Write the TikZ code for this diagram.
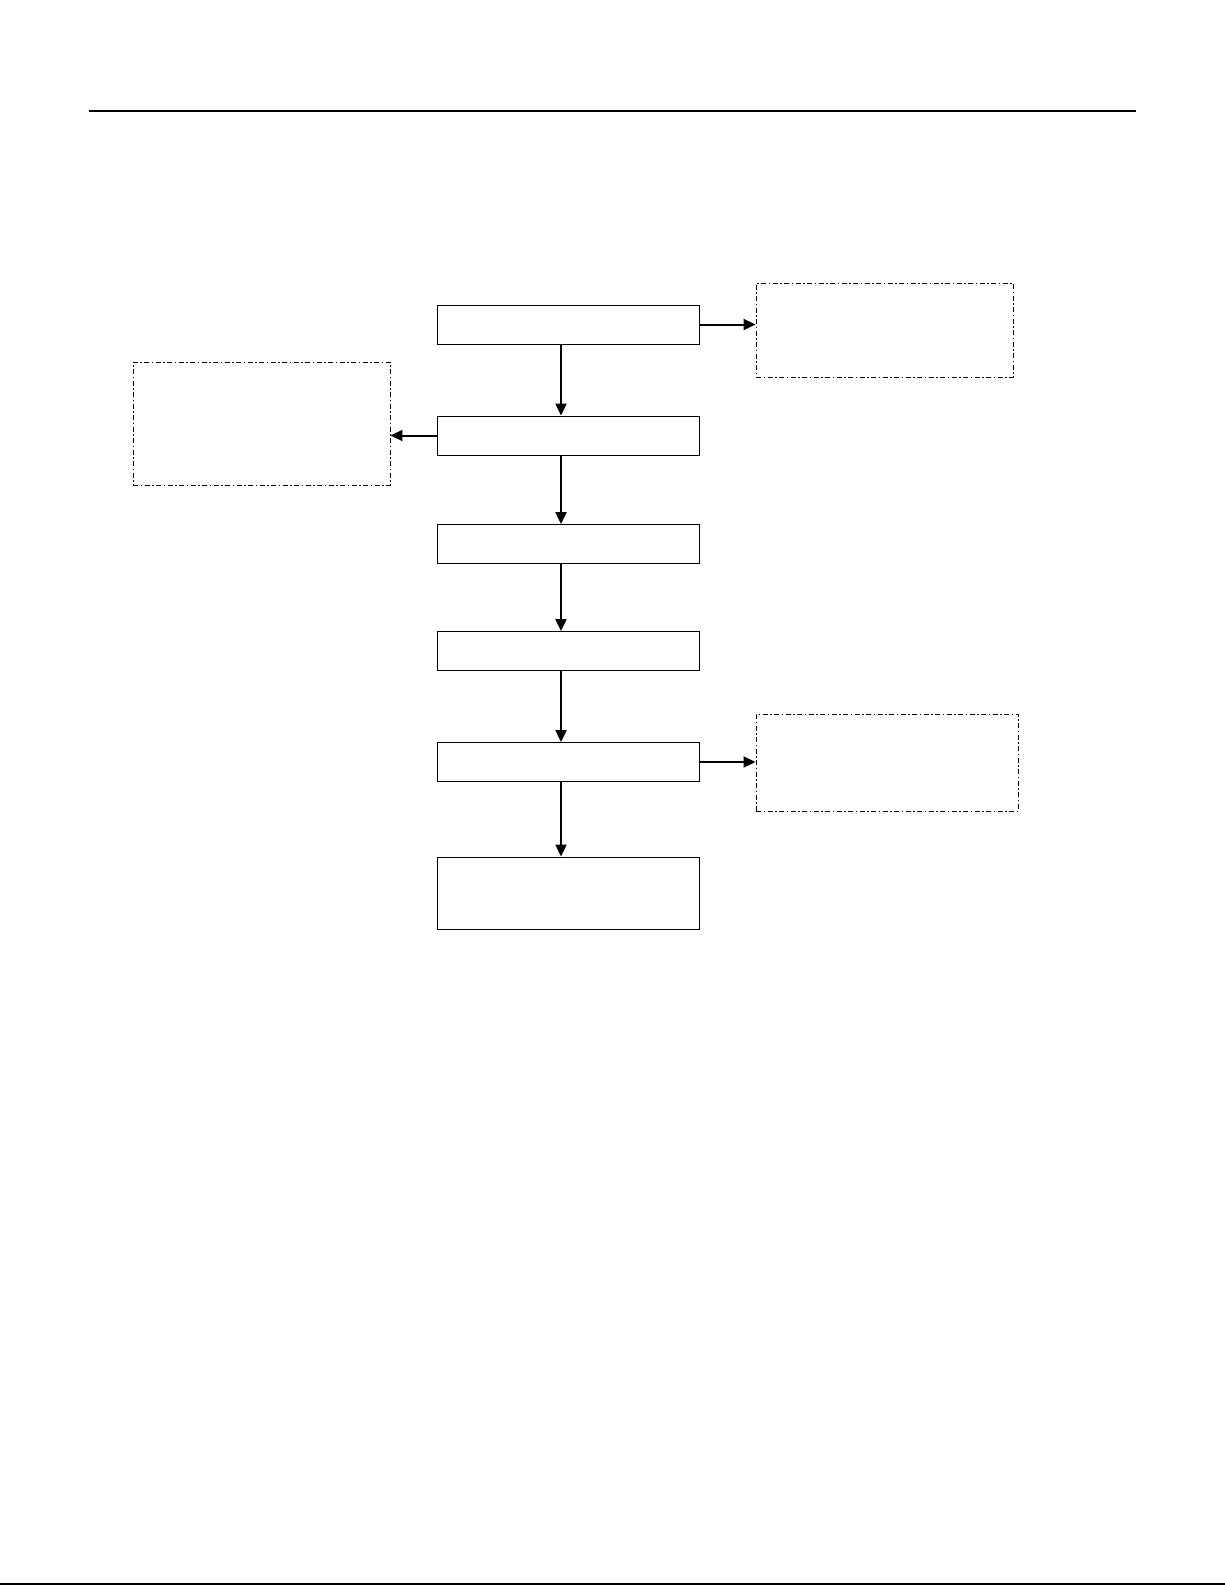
\documentclass[tikz,border=0pt]{standalone}
\usetikzlibrary{arrows.meta}
\begin{document}
\begin{tikzpicture}[x=1pt,y=-1pt,
  mainbox/.style={draw=black,line width=0.85pt,rectangle,inner sep=0pt,minimum width=262pt,minimum height=39pt},
  notebox/.style={draw=black,line width=0.9pt,rectangle,inner sep=0pt,dash pattern=on 5pt off 2.5pt on 1.5pt off 2.5pt},
  arr/.style={line width=2pt,-{Triangle[length=12pt,width=11pt]}},
  rule/.style={line width=2.4pt}]
\useasboundingbox (0,0) rectangle (1225,1585);
\fill[white] (0,0) rectangle (1225,1585);
% rules
\coordinate (tl) at (89,111);
\coordinate (tr) at (1136,111);
\draw[rule] (tl) -- (tr);
\coordinate (bl) at (0,1583.5);
\coordinate (br) at (1225,1583.5);
\draw[line width=2pt] (bl) -- (br);
% main boxes
\node[mainbox] (b1) at (568,324.5) {};
\node[mainbox] (b2) at (568,435.5) {};
\node[mainbox] (b3) at (568,544) {};
\node[mainbox] (b4) at (568,651) {};
\node[mainbox] (b5) at (568,762) {};
\node[mainbox,minimum height=72pt] (b6) at (568,893) {};
% note boxes
\node[notebox,minimum width=257pt,minimum height=94pt] (n1) at (884.5,330) {};
\node[notebox,minimum width=257pt,minimum height=123pt] (n2) at (261.5,423.5) {};
\node[notebox,minimum width=262pt,minimum height=97pt] (n3) at (887,762.5) {};
% connectors
\coordinate (c) at (561,0);
\draw[arr] (b1.south -| c) -- (b2.north -| c);
\draw[arr] (b2.south -| c) -- (b3.north -| c);
\draw[arr] (b3.south -| c) -- (b4.north -| c);
\draw[arr] (b4.south -| c) -- (b5.north -| c);
\draw[arr] (b5.south -| c) -- (b6.north -| c);
\draw[arr] (b1.east) -- (b1.east -| n1.west);
\draw[arr] (b2.west) -- (b2.west -| n2.east);
\draw[arr] (b5.east) -- (b5.east -| n3.west);
\end{tikzpicture}
\end{document}
